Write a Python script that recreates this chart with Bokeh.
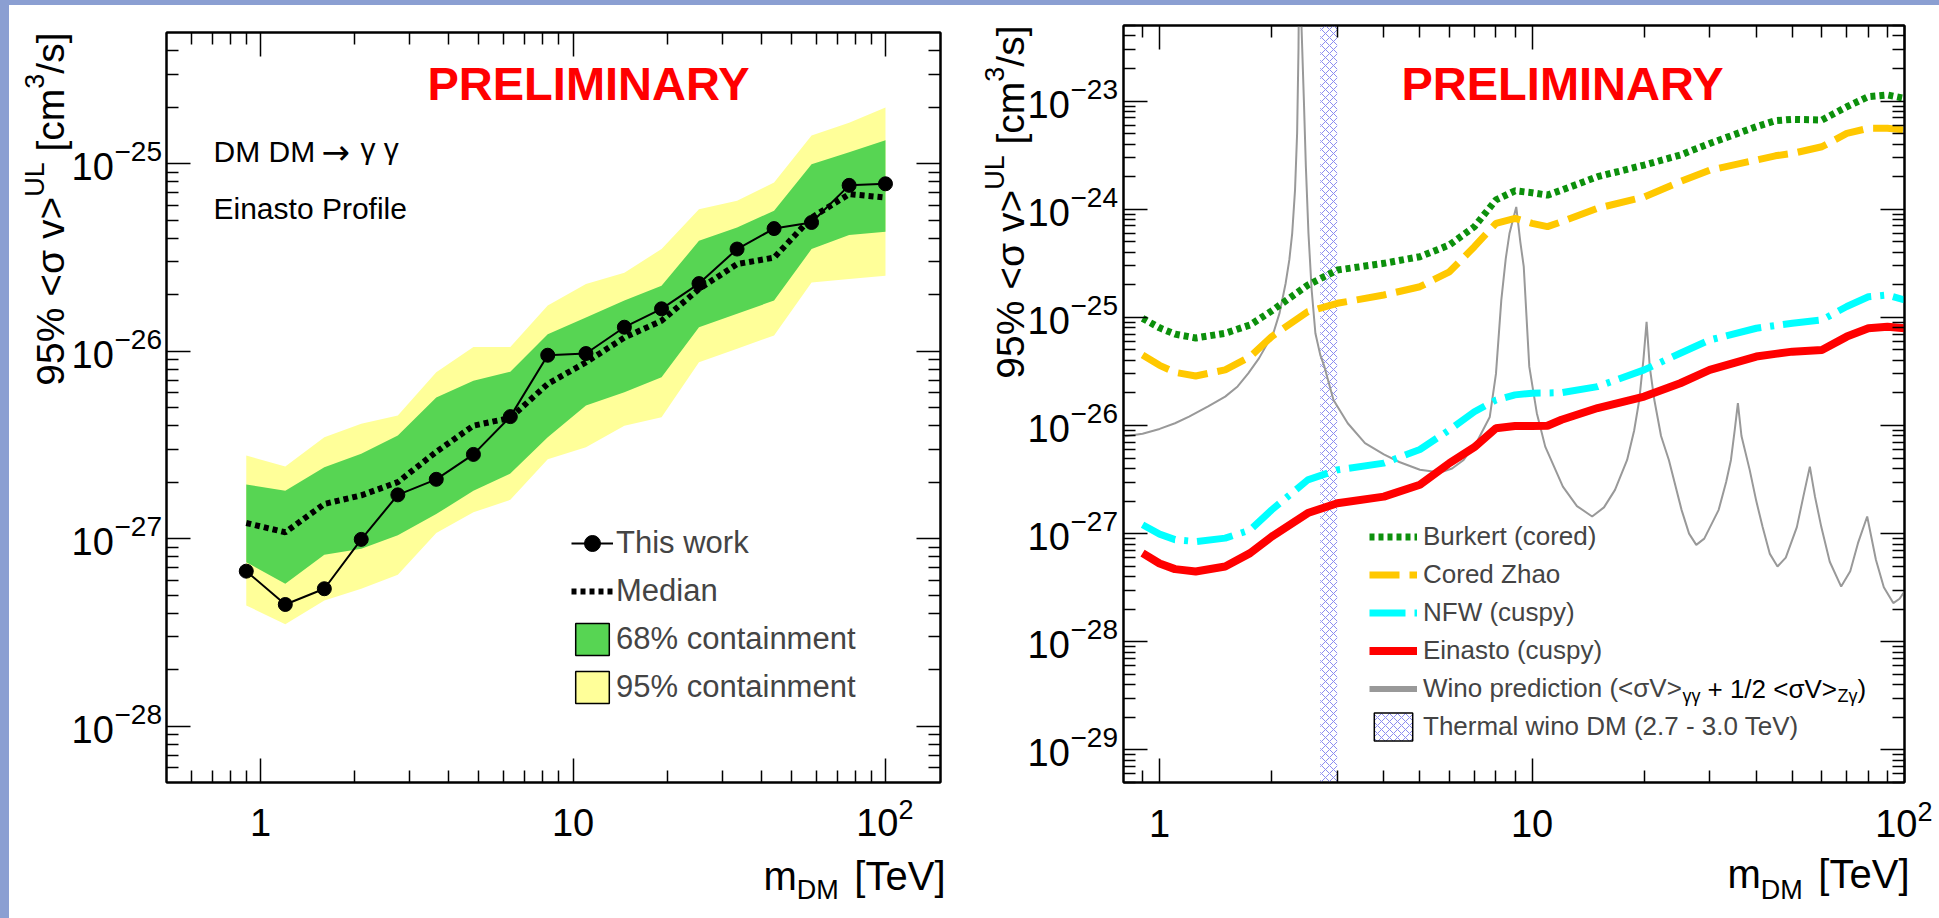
import math
from bokeh.plotting import figure
from bokeh.models import (FixedTicker, Label, Legend, LegendItem, BoxAnnotation, Div, Spacer,
                          CustomJSTickFormatter, Range1d, LogAxis)
from bokeh.layouts import row, column
from bokeh.embed import file_html
from bokeh.resources import INLINE

FONT = "Liberation Sans"
EDGE = "#8b9fd2"
NAN = float("nan")

# ---------------- left panel data: DM DM -> gamma gamma, Einasto ----------------
mass_L = [0.9, 1.2, 1.6, 2.1, 2.75, 3.65, 4.8, 6.3, 8.3, 11.0, 14.6, 19.2, 25.3, 33.5, 44.0, 58.0, 76.5, 100.0]
this_work = [6.7e-28, 4.45e-28, 5.4e-28, 9.9e-28, 1.71e-27, 2.07e-27, 2.81e-27, 4.47e-27, 9.5e-27,
             9.7e-27, 1.34e-26, 1.68e-26, 2.29e-26, 3.5e-26, 4.5e-26, 4.85e-26, 7.65e-26, 7.8e-26]
median = [1.21e-27, 1.08e-27, 1.53e-27, 1.70e-27, 2.0e-27, 2.9e-27, 4.0e-27, 4.4e-27, 6.68e-27,
          8.71e-27, 1.18e-26, 1.45e-26, 2.14e-26, 2.91e-26, 3.15e-26, 5.15e-26, 6.87e-26, 6.59e-26]
hi95 = [2.77e-27, 2.42e-27, 3.47e-27, 4.09e-27, 4.53e-27, 7.70e-27, 1.05e-26, 1.05e-26, 1.75e-26,
        2.28e-26, 2.62e-26, 3.50e-26, 5.71e-26, 6.33e-26, 7.92e-26, 1.41e-25, 1.65e-25, 1.99e-25]
hi68 = [1.94e-27, 1.80e-27, 2.4e-27, 2.83e-27, 3.54e-27, 5.66e-27, 6.95e-27, 7.76e-27, 1.23e-26,
        1.51e-26, 1.86e-26, 2.23e-26, 3.87e-26, 4.56e-26, 5.60e-26, 9.93e-26, 1.15e-25, 1.33e-25]
lo68 = [7.48e-28, 5.74e-28, 8.20e-28, 8.82e-28, 1.04e-27, 1.35e-27, 1.80e-27, 2.22e-27, 3.47e-27,
        5.12e-27, 6.03e-27, 7.24e-27, 1.34e-26, 1.58e-26, 1.86e-26, 3.50e-26, 4.16e-26, 4.33e-26]
lo95 = [4.40e-28, 3.49e-28, 4.68e-28, 5.40e-28, 6.41e-28, 1.07e-27, 1.38e-27, 1.61e-27, 2.65e-27,
        3.07e-27, 4.0e-27, 4.44e-27, 8.71e-27, 1.03e-26, 1.21e-26, 2.32e-26, 2.42e-26, 2.52e-26]

# ---------------- right panel data: profiles ----------------
mass_R = [0.9, 1.0, 1.1, 1.25, 1.5, 1.75, 2.0, 2.5, 3.0, 4.0, 5.0, 6.0, 7.0, 8.0, 9.0, 10.0, 11.0,
          12.0, 15.0, 20.0, 25.0, 30.0, 40.0, 45.0, 50.0, 60.0, 70.0, 80.0, 90.0, 100.0]
burkert = [9.8e-26, 8.0e-26, 7.0e-26, 6.45e-26, 7.13e-26, 8.5e-26, 1.15e-25, 1.99e-25, 2.74e-25,
           3.16e-25, 3.64e-25, 4.67e-25, 6.89e-25, 1.22e-24, 1.48e-24, 1.42e-24, 1.35e-24, 1.50e-24,
           2.0e-24, 2.56e-24, 3.17e-24, 4.06e-24, 5.79e-24, 6.58e-24, 6.78e-24, 6.68e-24, 8.86e-24,
           1.10e-23, 1.14e-23, 1.06e-23]
zhao = [4.49e-26, 3.6e-26, 3.1e-26, 2.87e-26, 3.27e-26, 4.33e-26, 6.64e-26, 1.13e-25, 1.35e-25,
        1.61e-25, 1.92e-25, 2.64e-25, 4.50e-25, 7.41e-25, 8.24e-25, 7.41e-25, 6.90e-25, 7.67e-25,
        1.02e-24, 1.30e-24, 1.80e-24, 2.30e-24, 2.85e-24, 3.12e-24, 3.28e-24, 3.78e-24, 5.03e-24,
        5.60e-24, 5.60e-24, 5.40e-24]
nfw = [1.21e-27, 9.9e-28, 8.8e-28, 8.45e-28, 9.09e-28, 1.08e-27, 1.66e-27, 3.14e-27, 3.89e-27,
       4.49e-27, 6.0e-27, 9.11e-27, 1.34e-26, 1.72e-26, 1.92e-26, 1.99e-26, 2.0e-26, 2.01e-26,
       2.29e-26, 3.27e-26, 4.66e-26, 6.18e-26, 7.93e-26, 8.4e-26, 8.82e-26, 9.46e-26, 1.26e-25,
       1.55e-25, 1.61e-25, 1.45e-25]
einasto = [6.61e-28, 5.3e-28, 4.7e-28, 4.47e-28, 4.97e-28, 6.61e-28, 9.4e-28, 1.55e-27, 1.91e-27,
           2.20e-27, 2.83e-27, 4.49e-27, 6.3e-27, 9.44e-27, 9.9e-27, 9.9e-27, 9.95e-27, 1.13e-26,
           1.45e-26, 1.85e-26, 2.46e-26, 3.27e-26, 4.34e-26, 4.6e-26, 4.82e-26, 5.0e-26, 6.64e-26,
           7.93e-26, 8.2e-26, 7.93e-26]
wino_m = [0.8, 0.9, 1.0, 1.1, 1.2, 1.35, 1.5, 1.62, 1.73, 1.85, 1.95, 2.02, 2.1, 2.18, 2.23, 2.27,
          2.31, 2.34, 2.36, 2.37, 2.40, 2.44, 2.47, 2.51, 2.56, 2.62, 2.7, 2.77, 2.93, 3.2, 3.56,
          4.0, 4.4, 5.0, 5.66, 6.1, 6.55, 7.1, 7.7, 8.0, 8.27, 8.5, 8.7, 9.07, 9.3, 9.5, 9.83,
          10.3, 10.85, 12.1, 13.2, 14.5, 15.6, 16.7, 18.0, 18.8, 19.4, 19.9, 20.3, 20.7, 21.3,
          22.2, 23.3, 25.2, 26.4, 27.6, 29.0, 31.7, 33.2, 34.2, 35.0, 35.7, 36.5, 38.4, 40.0,
          41.6, 43.5, 45.6, 48.0, 51.4, 53.5, 55.7, 57.5, 59.8, 63.0, 67.6, 71.5, 75.0, 79.4,
          83.8, 88.0, 93.3, 97.0, 100.0]
wino_sv = [7.9e-27, 8.4e-27, 9.3e-27, 1.05e-26, 1.21e-26, 1.5e-26, 1.85e-26, 2.3e-26, 3.04e-26,
           4.2e-26, 5.8e-26, 7.13e-26, 1.1e-25, 2.07e-25, 3.4e-25, 5.99e-25, 1.5e-24, 5.03e-24,
           3e-23, 2e-22, 6e-23, 1.02e-23, 2.5e-24, 6.0e-25, 1.8e-25, 7.13e-26, 4.5e-26, 3.5e-26,
           1.72e-26, 1.05e-26, 6.86e-27, 5.4e-27, 4.6e-27, 3.9e-27, 3.67e-27, 4.0e-27, 4.8e-27,
           7.0e-27, 1.2e-26, 3.0e-26, 1.45e-25, 3.5e-25, 6.0e-25, 1.05e-24, 5.0e-25, 2.94e-25,
           3.5e-26, 1.3e-26, 6.38e-27, 2.72e-27, 1.8e-27, 1.44e-27, 1.75e-27, 2.54e-27, 4.8e-27,
           9.0e-27, 1.72e-26, 4.0e-26, 9.1e-26, 3.5e-26, 1.72e-26, 8.0e-27, 4.8e-27, 1.66e-27,
           1.0e-27, 7.88e-28, 9.0e-28, 1.66e-27, 3.0e-27, 4.8e-27, 9.0e-27, 1.61e-26, 8.0e-27,
           3.89e-27, 2.0e-27, 1.15e-27, 6.5e-28, 4.97e-28, 6.0e-28, 1.15e-27, 2.2e-27, 4.17e-27,
           2.2e-27, 1.15e-27, 5.5e-28, 3.24e-28, 4.5e-28, 8.17e-28, 1.44e-27, 5.73e-28, 3.2e-28,
           2.28e-28, 2.5e-28, 2.92e-28]
thermal_band = [2.7, 3.0]

# ---------------- axes / tick labels ----------------
XL = (0.5, 150.0)
YL = (5e-29, 5e-25)
XR = (0.8, 100.0)
YR = (5e-30, 5e-23)
x_major = [1, 10, 100]
x_labels = ["1", "10", "10"]
yL_major = [1e-28, 1e-27, 1e-26, 1e-25]
yL_exp = ["\u221228", "\u221227", "\u221226", "\u221225"]
yR_major = [1e-29, 1e-28, 1e-27, 1e-26, 1e-25, 1e-24, 1e-23]
yR_exp = ["\u221229", "\u221228", "\u221227", "\u221226", "\u221225", "\u221224", "\u221223"]

GREEN_BAND = "#57d553"
YELLOW_BAND = "#ffff99"
HATCH = "#8c8cf0"
WINO = "#999999"

# ---------------- page geometry (pixels) ----------------
TOP, SIDE = 5, 9
ROW_H, BOT_H = 779, 134
P1 = dict(left_w=155, core_w=778, right_w=33, top=27, full_w=966, box_left=157)
P2 = dict(left_w=146, core_w=785, right_w=33, top=20, full_w=964, box_left=148)
EXTRA_R = 35


def minors(lo, hi, e0, e1):
    return [m * 10.0 ** e for e in range(e0, e1 + 1) for m in range(2, 10) if lo < m * 10.0 ** e < hi]


def lab(p, x, y, text, dx=0, dy=0, size=30, align="left", baseline="middle",
        color="black", style="normal", angle=0.0, font=FONT):
    p.add_layout(Label(x=x, y=y, x_offset=dx, y_offset=dy, text=text, text_font=font,
                       text_font_size=f"{size}px", text_align=align, text_baseline=baseline,
                       text_color=color, text_font_style=style, angle=angle))


def core_figure(g, xr, yr, ymaj, ex0, ex1, ey0, ey1):
    p = figure(width=g["core_w"], height=ROW_H, x_axis_type="log", y_axis_type="log",
               x_range=Range1d(*xr), y_range=Range1d(*yr), output_backend="svg",
               toolbar_location=None, min_border_left=2, min_border_right=2,
               min_border_top=g["top"], min_border_bottom=2)
    p.grid.visible = False
    p.outline_line_color = "black"
    p.outline_line_width = 2
    p.border_fill_color = "white"
    p.background_fill_color = "white"
    p.add_layout(LogAxis(), "above")
    p.add_layout(LogAxis(), "right")
    for ax in p.xaxis:
        ax.ticker = FixedTicker(ticks=x_major, minor_ticks=minors(xr[0], xr[1], ex0, ex1))
    for ax in p.yaxis:
        ax.ticker = FixedTicker(ticks=ymaj, minor_ticks=minors(yr[0], yr[1], ey0, ey1))
    for ax in p.axis:
        ax.formatter = CustomJSTickFormatter(code="return ''")
        ax.major_label_text_font_size = "1px"
        ax.major_label_standoff = 0
        ax.axis_line_color = "black"
        ax.axis_line_width = 2
        ax.major_tick_in = 24
        ax.major_tick_out = 0
        ax.minor_tick_in = 12
        ax.minor_tick_out = 0
        ax.major_tick_line_width = 1.5
        ax.minor_tick_line_width = 1.5
        ax.major_tick_line_color = "black"
        ax.minor_tick_line_color = "black"
    return p


def blank(p):
    p.grid.visible = False
    p.outline_line_color = None
    p.border_fill_color = "white"
    p.background_fill_color = "white"
    return p


def left_margin(g, core, ymaj, yexp, title_x, tick_x):
    # x coordinate: pixels relative to the box's left edge
    p = blank(figure(width=g["left_w"], height=ROW_H, y_axis_type="log",
                     x_range=Range1d(-(g["box_left"]), -2), y_range=core.y_range,
                     x_axis_location=None, y_axis_location=None, output_backend="svg",
                     toolbar_location=None, min_border_left=0, min_border_right=0,
                     min_border_top=g["top"], min_border_bottom=2))
    for t, e in zip(ymaj, yexp):
        lab(p, tick_x, t, "10", dy=-3, size=38)
        lab(p, tick_x + 43, t, e, dy=12, size=28)
    ytop = core.y_range.end
    a = math.pi / 2
    sx = title_x - 16
    lab(p, title_x, ytop, "/s]", dy=0, size=39, align="right", angle=a)
    lab(p, sx, ytop, "3", dy=-41.2, size=27, align="right", angle=a)
    lab(p, title_x, ytop, "[cm", dy=-56.2, size=39, align="right", angle=a)
    lab(p, sx, ytop, "UL", dy=-129.8, size=27, align="right", angle=a)
    lab(p, title_x, ytop, "95% <\u03c3 v>", dy=-164.3, size=39, align="right", angle=a)
    return p


def bottom_margin(g, xr, box_w, tick_y, sup_y, title_y, sub_y):
    # y coordinate: pixels below the box's bottom edge
    lo, hi = math.log10(xr[0]), math.log10(xr[1])
    x_ext = 10 ** (hi + EXTRA_R * (hi - lo) / box_w)
    p = blank(figure(width=g["full_w"], height=BOT_H, x_axis_type="log",
                     x_range=Range1d(xr[0], x_ext), y_range=Range1d(BOT_H + 2, 2),
                     x_axis_location=None, y_axis_location=None, output_backend="svg",
                     toolbar_location=None, min_border_left=g["box_left"], min_border_right=0,
                     min_border_top=0, min_border_bottom=0))
    lab(p, x_major[0], tick_y, x_labels[0], size=38, align="center")
    lab(p, x_major[1], tick_y, x_labels[1], size=38, align="center")
    lab(p, x_major[2], tick_y, x_labels[2], dx=13, size=38, align="right")
    lab(p, x_major[2], sup_y, "2", dx=13, size=27, align="left")
    lab(p, xr[1], title_y, "[TeV]", dx=5, size=40, align="right")
    lab(p, xr[1], sub_y, "DM", dx=5 - 106.7, size=27, align="right")
    lab(p, xr[1], title_y, "m", dx=5 - 106.7 - 42, size=40, align="right")
    return p


# ======================= left panel =======================
c1 = core_figure(P1, XL, YL, yL_major, -1, 2, -29, -25)
c1.varea(x=mass_L, y1=lo95, y2=hi95, fill_color=YELLOW_BAND)
c1.varea(x=mass_L, y1=lo68, y2=hi68, fill_color=GREEN_BAND)
r_med = c1.line(mass_L, median, line_color="black", line_width=6, line_dash="5 4")
r_tw = c1.line(mass_L, this_work, line_color="black", line_width=2)
r_twp = c1.scatter(mass_L, this_work, size=14, color="black")
r_b68 = c1.quad(left=[NAN], right=[NAN], top=[NAN], bottom=[NAN], fill_color=GREEN_BAND,
                line_color="black", line_width=1.5)
r_b95 = c1.quad(left=[NAN], right=[NAN], top=[NAN], bottom=[NAN], fill_color=YELLOW_BAND,
                line_color="black", line_width=1.5)
leg1 = Legend(items=[LegendItem(label="This work", renderers=[r_tw, r_twp]),
                     LegendItem(label="Median", renderers=[r_med]),
                     LegendItem(label="68% containment", renderers=[r_b68]),
                     LegendItem(label="95% containment", renderers=[r_b95])],
              location=(405, 75), glyph_width=42, glyph_height=40, label_height=40,
              spacing=8, padding=0, margin=0, label_standoff=3, border_line_color=None,
              background_fill_alpha=0, label_text_font=FONT, label_text_font_size="31px")
c1.add_layout(leg1)
lab(c1, XL[0], YL[1], "PRELIMINARY", dx=422, dy=-50.5, size=47, align="center",
    color="#ff0000", style="bold")
lab(c1, XL[0], YL[1], "DM DM", dx=47, dy=-119, size=30)
lab(c1, XL[0], YL[1], "\u2192", dx=155, dy=-119, size=34, font="DejaVu Sans")
lab(c1, XL[0], YL[1], "\u03b3 \u03b3", dx=194, dy=-116, size=30)
lab(c1, XL[0], YL[1], "Einasto Profile", dx=47, dy=-175.5, size=30)

l1 = left_margin(P1, c1, yL_major, yL_exp, title_x=-116, tick_x=-95)
b1 = bottom_margin(P1, XL, 774, tick_y=40, sup_y=27, title_y=93, sub_y=107)

# ======================= right panel =======================
c2 = core_figure(P2, XR, YR, yR_major, -1, 2, -30, -23)
c2.add_layout(BoxAnnotation(left=thermal_band[0], right=thermal_band[1], fill_color=None,
                            line_color=None, hatch_pattern="x", hatch_color=HATCH,
                            hatch_scale=8, hatch_weight=1, level="underlay"))
r_wino = c2.line(wino_m, wino_sv, line_color=WINO, line_width=2)
r_bur = c2.line(mass_R, burkert, line_color="#0c900c", line_width=7, line_dash="5 4")
r_zhao = c2.line(mass_R, zhao, line_color="#ffc800", line_width=7, line_dash="30 10")
r_nfw = c2.line(mass_R, nfw, line_color="#00ffff", line_width=7, line_dash="36 9 4 9")
r_ein = c2.line(mass_R, einasto, line_color="#ff0000", line_width=8)
r_wino_key = c2.line([NAN, NAN], [NAN, NAN], line_color=WINO, line_width=6)
r_th = c2.quad(left=[NAN], right=[NAN], top=[NAN], bottom=[NAN], fill_color="white",
               line_color="black", line_width=1.5, hatch_pattern="x", hatch_color=HATCH,
               hatch_scale=8, hatch_weight=1)
leg2 = Legend(items=[LegendItem(label="Burkert (cored)", renderers=[r_bur]),
                     LegendItem(label="Cored Zhao", renderers=[r_zhao]),
                     LegendItem(label="NFW (cuspy)", renderers=[r_nfw]),
                     LegendItem(label="Einasto (cuspy)", renderers=[r_ein]),
                     LegendItem(label="Wino prediction (<\u03c3V>", renderers=[r_wino_key]),
                     LegendItem(label="Thermal wino DM (2.7 - 3.0 TeV)", renderers=[r_th])],
              location=(246, 38), glyph_width=48, glyph_height=35, label_height=35,
              spacing=3, padding=0, margin=0, label_standoff=6, border_line_color=None,
              background_fill_alpha=0, label_text_font=FONT, label_text_font_size="26px")
c2.add_layout(leg2)
wy = 38 + 38 + 17.5
lab(c2, XR[0], YR[0], "\u03b3\u03b3", dx=559, dy=wy - 7, size=18)
lab(c2, XR[0], YR[0], "+ 1/2 <\u03c3V>", dx=584, dy=wy, size=26)
lab(c2, XR[0], YR[0], "Z\u03b3", dx=714, dy=wy - 7, size=18)
lab(c2, XR[0], YR[0], ")", dx=734, dy=wy, size=26)
lab(c2, XR[0], YR[1], "PRELIMINARY", dx=439, dy=-57.5, size=47, align="center",
    color="#ff0000", style="bold")

l2 = left_margin(P2, c2, yR_major, yR_exp, title_x=-113, tick_x=-96)
b2 = bottom_margin(P2, XR, 781, tick_y=41, sup_y=29, title_y=91, sub_y=107)

# ======================= page layout =======================
panel1 = column(row(l1, c1, Spacer(width=P1["right_w"], height=ROW_H, margin=(0, 0, 0, 0))), b1)
panel2 = column(row(l2, c2, Spacer(width=P2["right_w"], height=ROW_H, margin=(0, 0, 0, 0))), b2)
top_strip = Div(text="", width=1939, height=TOP, margin=(0, 0, 0, 0),
                styles={"background-color": EDGE})
side_strip = Div(text="", width=SIDE, height=918 - TOP, margin=(0, 0, 0, 0),
                 styles={"background-color": EDGE})
layout = column(top_strip, row(side_strip, panel1, panel2))

open("out.html", "w").write(file_html(layout, INLINE))
